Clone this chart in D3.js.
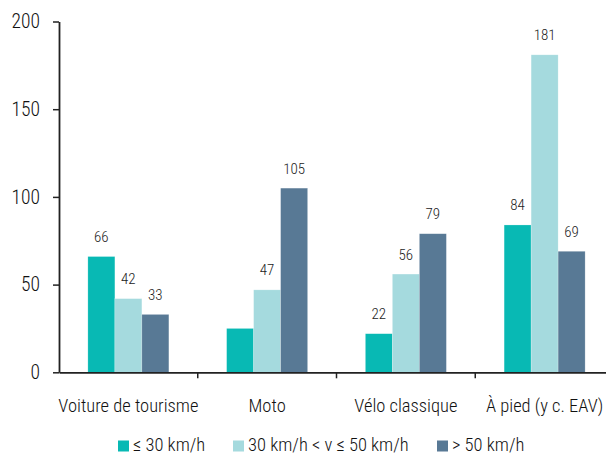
<!DOCTYPE html>
<html><head><meta charset="utf-8">
<script src="https://cdn.jsdelivr.net/npm/d3@7"></script>
<style>
body{margin:0;background:#fff;}
text{font-family:"Roboto Condensed","Liberation Sans Narrow","Arial Narrow",sans-serif;font-weight:300;}
</style></head>
<body><svg id="c" width="606" height="455"></svg>
<script>
const categories = ["Voiture de tourisme","Moto","Vélo classique","À pied (y c. EAV)"];
const seriesNames = ["≤ 30 km/h","30 km/h < v ≤ 50 km/h","> 50 km/h"];
const seriesLow = [66, 25, 22, 84];
const seriesMid = [42, 47, 56, 181];
const seriesHigh = [33, 105, 79, 69];
const labelLow = ["66", null, "22", "84"];
const labelMid = ["42", "47", "56", "181"];
const labelHigh = ["33", "105", "79", "69"];
const yTicks = [0, 50, 100, 150, 200];
const colors = ["#08b9b4", "#a5dade", "#587995"];

const allValues = [seriesLow, seriesMid, seriesHigh];
const allLabels = [labelLow, labelMid, labelHigh];

const svg = d3.select("#c");
const x0 = d3.scaleBand().domain(categories).range([59, 614]).padding(0);
const x1 = d3.scaleBand().domain(seriesNames).range([0, x0.bandwidth()]).paddingInner(0).paddingOuter(1.07);
const y = d3.scaleLinear().domain([0, 200]).range([372.3, 21.5]);

// bars
const groups = svg.append("g").selectAll("g").data(categories).join("g")
  .attr("transform", d => `translate(${x0(d)},0)`);
groups.each(function(cat, ci){
  const g = d3.select(this);
  seriesNames.forEach((s, si) => {
    const v = allValues[si][ci];
    g.append("rect")
      .attr("x", x1(s)).attr("width", x1.bandwidth())
      .attr("y", y(v)).attr("height", y(0) - y(v))
      .attr("fill", colors[si])
      .attr("stroke", "#ffffff").attr("stroke-opacity", 0.35).attr("stroke-width", 0.6);
    const lab = allLabels[si][ci];
    if (lab !== null) {
      g.append("text")
        .attr("x", x1(s) + x1.bandwidth()/2).attr("y", y(v) - 14.5)
        .attr("text-anchor", "middle").attr("font-size", 15).attr("fill", "#222")
        .text(lab);
    }
  });
});

// y axis
const yAxis = svg.append("g").attr("transform", "translate(59,0)")
  .call(d3.axisLeft(y).tickValues(yTicks).tickSize(6).tickPadding(13).tickSizeOuter(0));
yAxis.select(".domain").attr("stroke", "#222").attr("stroke-width", 1.8);
yAxis.selectAll(".tick line").attr("stroke", "#222").attr("stroke-width", 1.5);
yAxis.selectAll(".tick text").attr("font-size", 19.5).attr("fill", "#111");

// x axis
const xAxis = svg.append("g").attr("transform", `translate(0,${y(0)})`)
  .call(d3.axisBottom(x0).tickSize(0).tickPadding(27).tickSizeOuter(0));
xAxis.select(".domain").attr("stroke", "#222").attr("stroke-width", 1.8);
xAxis.selectAll(".tick text").attr("font-size", 18.5).attr("fill", "#111");
svg.selectAll("g").attr("font-family", null).attr("font-size", null);
// boundary ticks between categories
svg.append("g").selectAll("line").data(categories.slice(1)).join("line")
  .attr("x1", d => x0(d)).attr("x2", d => x0(d))
  .attr("y1", y(0)).attr("y2", y(0) + 6)
  .attr("stroke", "#222").attr("stroke-width", 1.5);

// legend
const legendX = [118, 233, 437];
const leg = svg.append("g");
seriesNames.forEach((s, i) => {
  leg.append("rect").attr("x", legendX[i]).attr("y", 440.5).attr("width", 11).attr("height", 11).attr("fill", colors[i]);
  leg.append("text").attr("x", legendX[i] + 15).attr("y", 451).attr("font-size", 18.5).attr("fill", "#111").text(s);
});
</script></body></html>
